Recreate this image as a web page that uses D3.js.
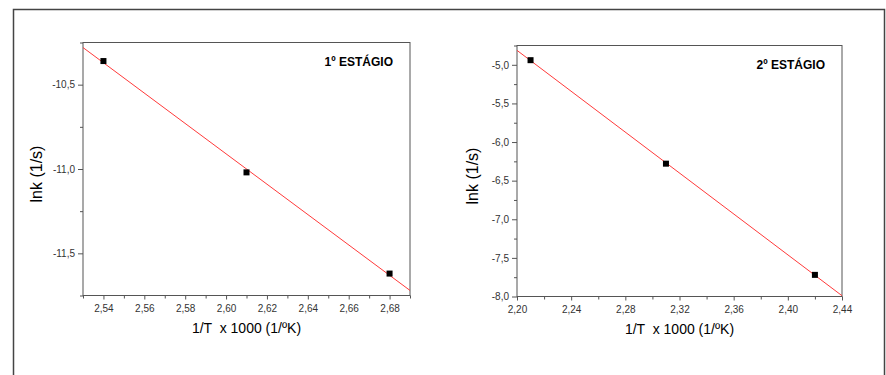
<!DOCTYPE html>
<html>
<head>
<meta charset="utf-8">
<script src="https://cdn.jsdelivr.net/npm/d3@7"></script>
<style>
  body { margin: 0; background: #fff; }
  svg { display: block; font-family: "Liberation Sans", Arial, sans-serif; }
  .axis text { font-size: 10px; fill: #333; }
  .axis line, .axis path { stroke: #555; }
</style>
</head>
<body>
<svg id="chart" width="886" height="375"></svg>
<script>
// 1st stage (1/T x 1000 vs lnk)
var stage1X = [2.54, 2.61, 2.68]
var stage1Y = [-10.36, -11.02, -11.62]
var stage1XTicks = [2.54, 2.56, 2.58, 2.60, 2.62, 2.64, 2.66, 2.68]
var stage1XMinor = [2.53, 2.55, 2.57, 2.59, 2.61, 2.63, 2.65, 2.67, 2.69]
var stage1YTicks = [-10.5, -11.0, -11.5]
var stage1YMinor = [-10.25, -10.75, -11.25, -11.75]

// 2nd stage
var stage2X = [2.21, 2.31, 2.42]
var stage2Y = [-4.94, -6.28, -7.72]
var stage2XTicks = [2.20, 2.24, 2.28, 2.32, 2.36, 2.40, 2.44]
var stage2XMinor = [2.22, 2.26, 2.30, 2.34, 2.38, 2.42]
var stage2YTicks = [-5.0, -5.5, -6.0, -6.5, -7.0, -7.5, -8.0]
var stage2YMinor = [-4.75, -5.25, -5.75, -6.25, -6.75, -7.25, -7.75]

var svg = d3.select('#chart')

// outer frame (no bottom edge)
svg.append('path')
    .attr('d', 'M13.5,375 L13.5,9.5 L884.5,9.5 L884.5,375')
    .attr('fill', 'none')
    .attr('stroke', '#444')
    .attr('stroke-width', 1.5)

function comma(fmt) {
    var f = d3.format(fmt)
    return function(d) { return f(d).replace('.', ',').replace('−', '-') }
}

// least squares fit through the points
function fit(xs, ys) {
    var mx = d3.mean(xs), my = d3.mean(ys)
    var sxy = d3.sum(xs, (x, i) => (x - mx) * (ys[i] - my))
    var sxx = d3.sum(xs, x => (x - mx) * (x - mx))
    var b = sxy / sxx
    return function(x) { return my + b * (x - mx) }
}

function drawPanel(p) {
    var width = p.right - p.left
    var height = p.bottom - p.top
    var g = svg.append('g').attr('transform', 'translate(' + p.left + ',' + p.top + ')')

    var x = d3.scaleLinear().domain(p.xDomain).range([0, width])
    var y = d3.scaleLinear().domain(p.yDomain).range([height, 0])

    // minor ticks
    g.append('g')
        .attr('class', 'axis')
        .attr('transform', 'translate(0,' + height + ')')
        .call(d3.axisBottom(x).tickValues(p.xMinor).tickSize(3).tickFormat(''))
        .call(a => a.select('.domain').remove())
    g.append('g')
        .attr('class', 'axis')
        .call(d3.axisLeft(y).tickValues(p.yMinor).tickSize(3).tickFormat(''))
        .call(a => a.select('.domain').remove())

    // major ticks
    g.append('g')
        .attr('class', 'axis')
        .attr('transform', 'translate(0,' + height + ')')
        .call(d3.axisBottom(x).tickValues(p.xTicks).tickSize(4).tickPadding(5).tickSizeOuter(0).tickFormat(comma('.2f')))
        .call(a => a.select('.domain').remove())
    g.append('g')
        .attr('class', 'axis')
        .call(d3.axisLeft(y).tickValues(p.yTicks).tickSize(5).tickPadding(3).tickSizeOuter(0).tickFormat(comma('.1f')))
        .call(a => a.select('.domain').remove())

    // box
    g.append('rect')
        .attr('width', width)
        .attr('height', height)
        .attr('fill', 'none')
        .attr('stroke', '#555')
        .attr('stroke-width', 1)

    // fitted line
    var f = fit(p.xs, p.ys)
    g.append('line')
        .attr('x1', x(p.xDomain[0])).attr('y1', y(f(p.xDomain[0])))
        .attr('x2', x(p.xDomain[1])).attr('y2', y(f(p.xDomain[1])))
        .attr('stroke', '#ff3a3a')
        .attr('stroke-width', 1)

    // points
    g.selectAll('rect.pt')
        .data(p.xs)
        .enter().append('rect')
        .attr('class', 'pt')
        .attr('x', d => x(d) - 3)
        .attr('y', (d, i) => y(p.ys[i]) - 3)
        .attr('width', 6)
        .attr('height', 6)
        .attr('fill', '#000')

    // stage label
    g.append('text')
        .attr('x', width - 17)
        .attr('y', p.labelY)
        .attr('text-anchor', 'end')
        .style('font-size', '12px')
        .style('font-weight', 'bold')
        .text(p.label)

    // axis titles
    g.append('text')
        .attr('x', width / 2)
        .attr('y', height + 37)
        .attr('text-anchor', 'middle')
        .style('font-size', '14px')
        .style('white-space', 'pre')
        .text('1/T  x 1000 (1/ºK)')

    g.append('text')
        .attr('transform', 'translate(' + p.yTitleX + ',' + (height / 2 + 5) + ') rotate(-90)')
        .attr('text-anchor', 'middle')
        .style('font-size', '16px')
        .text('lnk (1/s)')
}

drawPanel({
    left: 83, top: 42.5, right: 410, bottom: 295.5,
    xDomain: [2.53, 2.69], yDomain: [-11.75, -10.25],
    xs: stage1X, ys: stage1Y,
    xTicks: stage1XTicks, xMinor: stage1XMinor,
    yTicks: stage1YTicks, yMinor: stage1YMinor,
    label: '1º ESTÁGIO', labelY: 23, yTitleX: -41
})

drawPanel({
    left: 517, top: 45.5, right: 842, bottom: 296.5,
    xDomain: [2.20, 2.44], yDomain: [-8.0, -4.75],
    xs: stage2X, ys: stage2Y,
    xTicks: stage2XTicks, xMinor: stage2XMinor,
    yTicks: stage2YTicks, yMinor: stage2YMinor,
    label: '2º ESTÁGIO', labelY: 23, yTitleX: -39
})
</script>
</body>
</html>
